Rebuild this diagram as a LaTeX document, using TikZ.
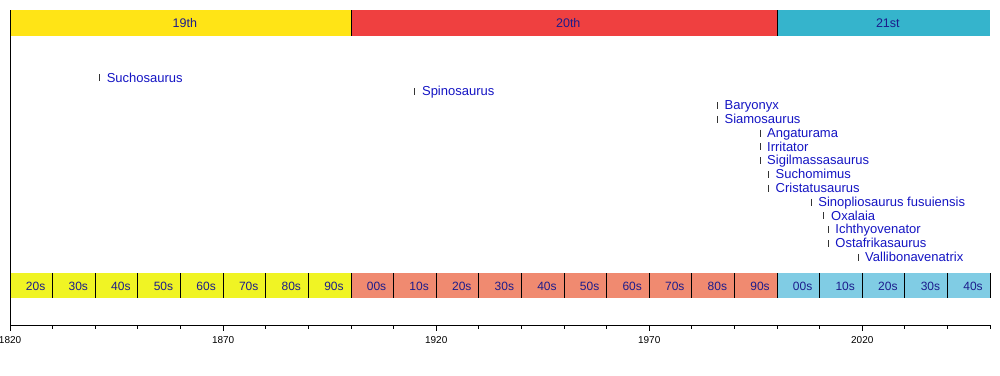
\documentclass[tikz,border=0pt]{standalone}
\usepackage{fontspec}
\setmainfont{Liberation Sans}

\definecolor{centNineteen}{RGB}{255,228,22}
\definecolor{centTwenty}{RGB}{239,64,64}
\definecolor{centTwentyOne}{RGB}{53,180,204}
\definecolor{decNineteen}{RGB}{240,244,36}
\definecolor{decTwenty}{RGB}{240,138,112}
\definecolor{decTwentyOne}{RGB}{128,204,228}
\definecolor{barText}{RGB}{28,28,140}
\definecolor{taxonBlue}{RGB}{20,20,195}

\tikzset{
	centurylabel/.style={anchor=base, text=barText, inner sep=0pt, font=\fontsize{12.5}{12.5}\selectfont},
	decadelabel/.style={anchor=base, text=barText, inner sep=0pt, font=\fontsize{12}{12}\selectfont},
	yearlabel/.style={anchor=base, inner sep=0pt, font=\fontsize{10}{10}\selectfont},
	taxon/.style={anchor=base west, xshift=7pt, inner sep=0pt, text=taxonBlue, font=\fontsize{13}{13}\selectfont},
	taxontick/.style={line width=0.9pt, black!80},
	rule/.style={line width=0.9pt, black}
}

\begin{document}
\begin{tikzpicture}[x=4.26pt, y=-1pt]
\useasboundingbox (1817.653,0) rectangle (2052.347,375);

	%century bar
\fill[centNineteen] (1820,10) rectangle (1900,36);
\fill[centTwenty] (1900,10) rectangle (2000,36);
\fill[centTwentyOne] (2000,10) rectangle (2050,36);
\draw[rule] (1900,10) -- (1900,36);
\draw[rule] (2000,10) -- (2000,36);
\node[centurylabel] (c19) at (1861,27.5) {19th};
\node[centurylabel] (c20) at (1951,27.5) {20th};
\node[centurylabel] (c21) at (2026,27.5) {21st};

	%decade bar
\fill[decNineteen] (1820,273) rectangle (1900,298);
\fill[decTwenty] (1900,273) rectangle (2000,298);
\fill[decTwentyOne] (2000,273) rectangle (2050,298);
\foreach \d in {1830,1840,...,2050}
	\draw[rule] (\d,273) -- (\d,298);
\foreach \d/\t in {1820/20s,1830/30s,1840/40s,1850/50s,1860/60s,1870/70s,1880/80s,1890/90s,
	1900/00s,1910/10s,1920/20s,1930/30s,1940/40s,1950/50s,1960/60s,1970/70s,1980/80s,1990/90s,
	2000/00s,2010/10s,2020/20s,2030/30s,2040/40s}
	\node[decadelabel] (d\d) at (\d+6,290) {\t};

	%axis
\draw[rule] (1820,10) -- (1820,325);
\draw[rule] (1820,325) -- (2050,325);
\foreach \d in {1830,1840,...,2050}
	\draw[rule] (\d,325) -- (\d,329);
\foreach \y in {1820,1870,...,2020}{
	\draw[rule] (\y,325) -- (\y,331);
	\node[yearlabel] (y\y) at (\y,343.5) {\y};
}

	%finds
\draw[taxontick] (1841,74.4) -- (1841,81.4);
\node[taxon] (suchosaurus) at (1841,82) {Suchosaurus};

\draw[taxontick] (1915,88.2) -- (1915,95.2);
\node[taxon] (spinosaurus) at (1915,95.8) {Spinosaurus};

\draw[taxontick] (1986,102) -- (1986,109);
\node[taxon] (baryonyx) at (1986,109.6) {Baryonyx};

\draw[taxontick] (1986,115.8) -- (1986,122.8);
\node[taxon] (siamosaurus) at (1986,123.4) {Siamosaurus};

\draw[taxontick] (1996,129.6) -- (1996,136.6);
\node[taxon] (angaturama) at (1996,137.2) {Angaturama};

\draw[taxontick] (1996,143.4) -- (1996,150.4);
\node[taxon] (irritator) at (1996,151) {Irritator};

\draw[taxontick] (1996,157.2) -- (1996,164.2);
\node[taxon] (sigilmassasaurus) at (1996,164.8) {Sigilmassasaurus};

\draw[taxontick] (1998,171) -- (1998,178);
\node[taxon] (suchomimus) at (1998,178.6) {Suchomimus};

\draw[taxontick] (1998,184.8) -- (1998,191.8);
\node[taxon] (cristatusaurus) at (1998,192.4) {Cristatusaurus};

\draw[taxontick] (2008,198.6) -- (2008,205.6);
\node[taxon] (sinopliosaurus) at (2008,206.2) {Sinopliosaurus fusuiensis};

\draw[taxontick] (2011,212.4) -- (2011,219.4);
\node[taxon] (oxalaia) at (2011,220) {Oxalaia};

\draw[taxontick] (2012,226.2) -- (2012,233.2);
\node[taxon] (ichthyovenator) at (2012,233.8) {Ichthyovenator};

\draw[taxontick] (2012,240) -- (2012,247);
\node[taxon] (ostafrikasaurus) at (2012,247.6) {Ostafrikasaurus};

\draw[taxontick] (2019,253.8) -- (2019,260.8);
\node[taxon] (vallibonavenatrix) at (2019,261.4) {Vallibonavenatrix};

\end{tikzpicture}
\end{document}
